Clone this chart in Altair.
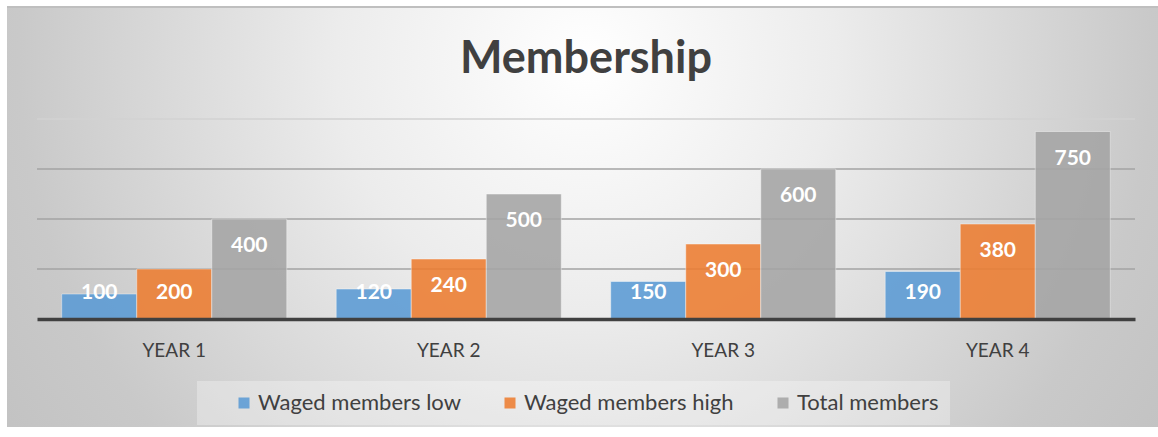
import altair as alt
import pandas as pd

years = ["YEAR 1", "YEAR 2", "YEAR 3", "YEAR 4"]
series = ["Waged members low", "Waged members high", "Total members"]
low = [100, 120, 150, 190]
high = [200, 240, 300, 380]
total = [400, 500, 600, 750]
grid_values = [200, 400, 600, 800]
colors = ["#5B9BD5", "#ED7D31", "#A5A5A5"]
title_text = "Membership"

rows = []
for i, yr in enumerate(years):
    for s, vals in zip(series, [low, high, total]):
        rows.append({"year": yr, "series": s, "value": vals[i]})
df = pd.DataFrame(rows)
grid_df = pd.DataFrame({"v": grid_values})
one = pd.DataFrame({"a": [0]})

FONT = "Lato"
y_scale = alt.Scale(domain=[0, 800], nice=False, zero=True)

x_enc = alt.X(
    "year:N", sort=years,
    scale=alt.Scale(paddingInner=0.18, paddingOuter=0.09),
    axis=alt.Axis(title=None, labelAngle=0, labelFont=FONT, labelFontSize=19,
                  labelColor="#404040", labelPadding=31, labelBaseline="middle",
                  ticks=False, domainColor="#404040", domainWidth=3.5,
                  grid=False, zindex=2),
)
xoff = alt.XOffset("series:N", sort=series, scale=alt.Scale(paddingInner=0, paddingOuter=0))

bg = alt.Chart(one).mark_rect(
    color={"gradient": "radial", "x1": 0.503, "y1": 0.364, "x2": 0.503, "y2": 0.364,
           "r1": 0, "r2": 0.608,
           "stops": [{"offset": 0, "color": "#ffffff"},
                     {"offset": 0.357, "color": "#ececec"},
                     {"offset": 0.81, "color": "#c9c9c9"},
                     {"offset": 1, "color": "#c2c2c2"}]}
).encode(x=alt.value(-30), x2=alt.value(1121), y=alt.value(-112), y2=alt.value(308))

top_line = alt.Chart(one).mark_rule(color="#bfbfbf", strokeWidth=2).encode(
    x=alt.value(-30), x2=alt.value(1121), y=alt.value(-112))

title = alt.Chart(one).mark_text(
    text=title_text, font=FONT, fontSize=45, fontWeight="bold", color="#404040",
    baseline="alphabetic", align="center"
).encode(x=alt.value(549), y=alt.value(-46))

grid = alt.Chart(grid_df).mark_rule(strokeWidth=1.5).encode(
    y=alt.Y("v:Q", scale=y_scale, axis=None),
    color=alt.condition("datum.v >= 800", alt.value("#d2d2d2"), alt.value("#a3a3a3")),
)

bars = alt.Chart(df).mark_bar(opacity=0.88, stroke="white", strokeOpacity=0.45, strokeWidth=1).encode(
    x=x_enc, xOffset=xoff,
    y=alt.Y("value:Q", scale=y_scale, axis=None),
    color=alt.Color("series:N", sort=series,
                    scale=alt.Scale(domain=series, range=colors),
                    legend=alt.Legend(title=None, orient="none", legendX=160, legendY=262,
                                      direction="horizontal", symbolType="square",
                                      symbolSize=121, symbolStrokeWidth=0, symbolOpacity=0.88,
                                      labelFont=FONT, labelFontSize=22, labelColor="#404040",
                                      labelLimit=500,
                                      fillColor="rgba(255,255,255,0.3)", padding=11,
                                      columnPadding=13, symbolOffset=25, labelOffset=3,
                                      zindex=1)),
)

labels = alt.Chart(df).transform_calculate(
    ly="max(datum.value - 108, 104)"
).mark_text(font=FONT, fontWeight="bold", fontSize=21, color="white", baseline="middle").encode(
    x=x_enc, xOffset=xoff,
    y=alt.Y("ly:Q", scale=y_scale, axis=None),
    text="value:Q",
)

chart = alt.layer(bg, top_line, title, grid, bars, labels).properties(
    width=1098, height=200,
    padding={"left": 37, "top": 119, "right": 23, "bottom": 118},
    autosize=alt.AutoSizeParams(type="none"),
).configure(background="white").configure_view(stroke=None)

chart.save("out.html", embed_options={"renderer": "svg", "actions": False})
